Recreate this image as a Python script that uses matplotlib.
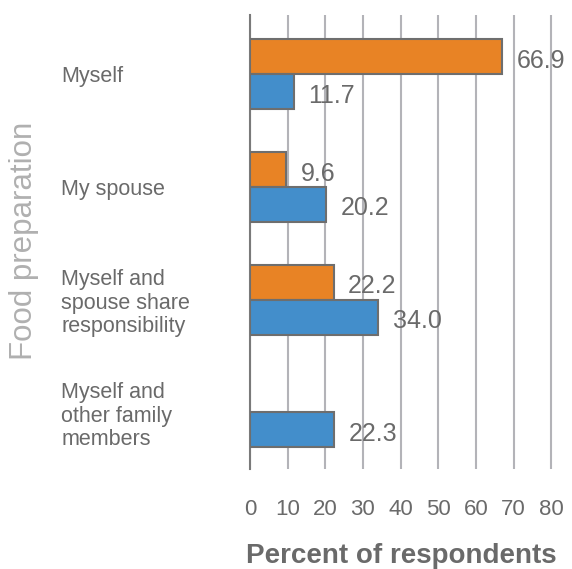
import matplotlib
matplotlib.use("Agg")
import matplotlib.pyplot as plt
import numpy as np

plt.rcParams['font.family'] = ['Liberation Sans', 'DejaVu Sans']

categories = ["Myself", "My spouse", "Myself and\nspouse share\nresponsibility",
              "Myself and\nother family\nmembers"]
orange_vals = [66.9, 9.6, 22.2, None]
blue_vals = [11.7, 20.2, 34.0, 22.3]
xticks = [0, 10, 20, 30, 40, 50, 60, 70, 80]

ORANGE = "#E88325"
BLUE = "#438ECB"
EDGE = "#6E6E6E"
TEXT = "#6A6A6A"

fig = plt.figure(figsize=(5.72, 5.69), dpi=100)
ax = fig.add_axes([0.437, 0.176, 0.530, 0.798])

y = np.arange(len(categories))
h = 0.31

for i, (o, b) in enumerate(zip(orange_vals, blue_vals)):
    if o is not None:
        ax.barh(y[i] - h / 2, o, height=h, color=ORANGE, edgecolor=EDGE,
                linewidth=1.5, zorder=3)
        ax.annotate(f"{o:.1f}", (o, y[i] - h / 2), xytext=(10.5, -3),
                    textcoords="offset points", va="center", ha="left",
                    fontsize=18, color=TEXT, zorder=4)
    if b is not None:
        ax.barh(y[i] + h / 2, b, height=h, color=BLUE, edgecolor=EDGE,
                linewidth=1.5, zorder=3)
        ax.annotate(f"{b:.1f}", (b, y[i] + h / 2), xytext=(10.5, -3),
                    textcoords="offset points", va="center", ha="left",
                    fontsize=18, color=TEXT, zorder=4)

ax.set_xlim(0, 80.5)
ax.set_ylim(3.5, -0.525)
ax.set_xticks(xticks)
ax.set_xticklabels([str(t) for t in xticks], fontsize=16, color=TEXT)
ax.tick_params(axis="x", length=0, pad=22)
ax.set_yticks(y)
ax.set_yticklabels(categories, fontsize=15.5, color=TEXT, ha="left",
                   linespacing=1.15)
ax.tick_params(axis="y", length=0, pad=136)

ax.xaxis.grid(True, color="#B3B3B8", linewidth=1.5, zorder=0)
for s in ["top", "right", "bottom"]:
    ax.spines[s].set_visible(False)
ax.spines["left"].set_color("#7A7A7A")
ax.spines["left"].set_linewidth(1.5)

ax.set_xlabel("Percent of respondents", fontsize=20, fontweight="bold",
              color=TEXT, labelpad=16)
fig.text(0.042, 0.576, "Food preparation", rotation=90, fontsize=22.5,
         color="#B0B0B0", ha="center", va="center")

fig.savefig("out.png", dpi=100)
